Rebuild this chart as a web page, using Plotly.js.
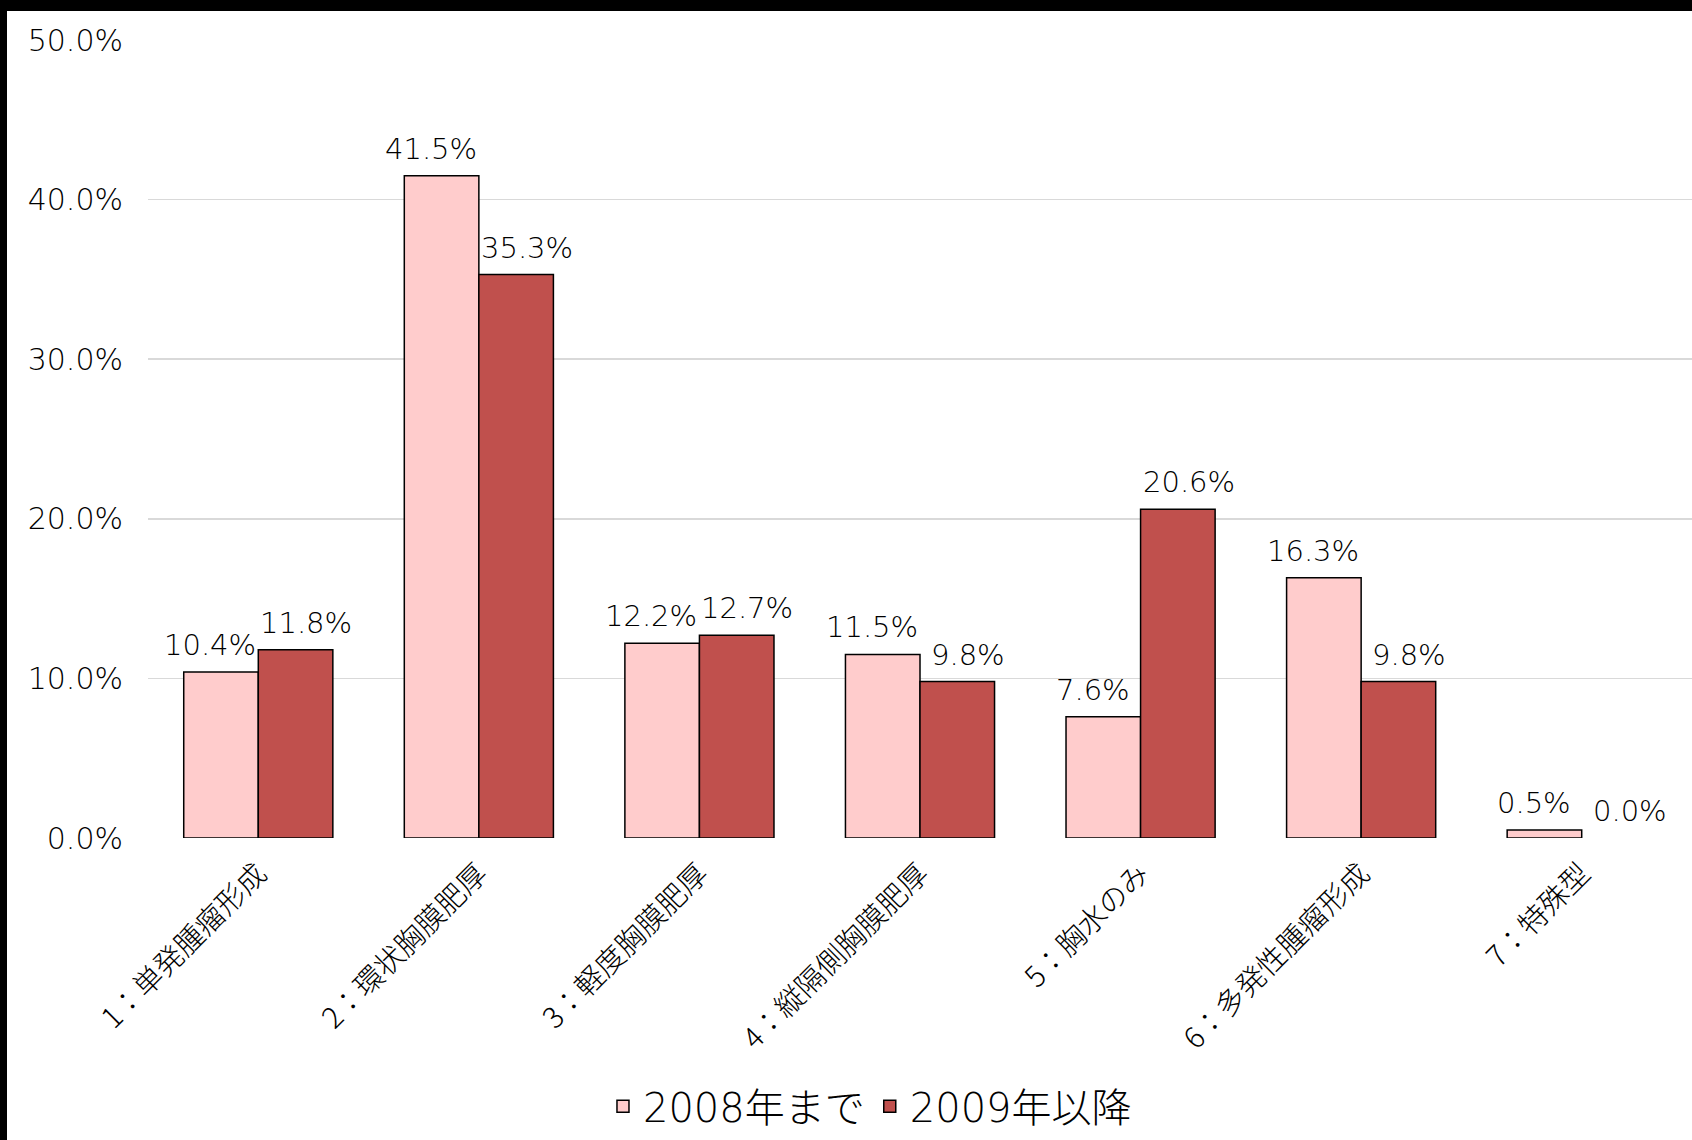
<!DOCTYPE html>
<html><head><meta charset="utf-8">
<script src="https://cdn.plot.ly/plotly-3.0.1.min.js"></script>
<style>
html,body{margin:0;padding:0;background:#000;width:1692px;height:1140px;overflow:hidden;}
#chart{position:absolute;left:7px;top:11px;width:1685px;height:1129px;background:#fff;}
</style></head><body>
<div id="chart"></div>
<script>
const categories = ["1：単発腫瘤形成","2：環状胸膜肥厚","3：軽度胸膜肥厚","4：縦隔側胸膜肥厚","5：胸水のみ","6：多発性腫瘤形成","7：特殊型"];
const seriesNames = ["2008年まで","2009年以降"];
const values2008 = [10.4, 41.5, 12.2, 11.5, 7.6, 16.3, 0.5];
const values2009 = [11.8, 35.3, 12.7, 9.8, 20.6, 9.8, 0.0];
const yTicks = [0, 10, 20, 30, 40, 50];

const cjkFam = '"Noto Sans CJK JP", "Noto Sans", sans-serif';
const numFam = '"DejaVu Sans", "Noto Sans CJK JP", sans-serif';
const mk = (name, ys, color) => ({
  type: 'bar', name: name, x: categories, y: ys,
  marker: {color: color, line: {color: '#000', width: ys.map(v => v > 0 ? 1.5 : 0)}},
  hoverinfo: 'skip'
});
const data = [mk(seriesNames[0], values2008, '#FFCCCC'), mk(seriesNames[1], values2009, '#C0504D')];

const annotations = [];
[[values2008, -48], [values2009, 48]].forEach(([vals, dx]) => {
  vals.forEach((v, i) => annotations.push({
    x: categories[i], y: v, xref: 'x', yref: 'y', text: v.toFixed(1) + '%',
    showarrow: false, xanchor: 'center', yanchor: 'bottom', xshift: dx, yshift: 8,
    font: {family: numFam, size: 29, color: '#000', weight: 300}
  }));
});

const layout = {
  width: 1685, height: 1129,
  paper_bgcolor: '#fff', plot_bgcolor: '#fff',
  margin: {l: 141, r: 0, t: 29, b: 302},
  barmode: 'group', bargap: 0.324, bargroupgap: 0,
  font: {family: cjkFam, color: '#000'},
  showlegend: true,
  annotations: annotations,
  legend: {orientation: 'h', x: 0.4676, xanchor: 'center', y: -0.336, yanchor: 'middle',
           font: {family: numFam, size: 40, color: '#000', weight: 300}, itemwidth: 30, traceorder: 'normal'},
  xaxis: {tickangle: -45, tickfont: {family: cjkFam, size: 29, color: '#000', weight: 300},
          showline: false, ticks: '', ticklabelstandoff: 12},
  yaxis: {range: [0, 50], tickvals: yTicks, ticktext: yTicks.map(v => v.toFixed(1) + '%'),
          tickfont: {family: numFam, size: 30, color: '#000', weight: 300},
          showgrid: true, gridcolor: '#d9d9d9', gridwidth: 1.5, zeroline: false,
          showline: false, ticks: '', ticklabelstandoff: 24}
};
Plotly.newPlot('chart', data, layout, {displayModeBar: false, staticPlot: true});
</script></body></html>
